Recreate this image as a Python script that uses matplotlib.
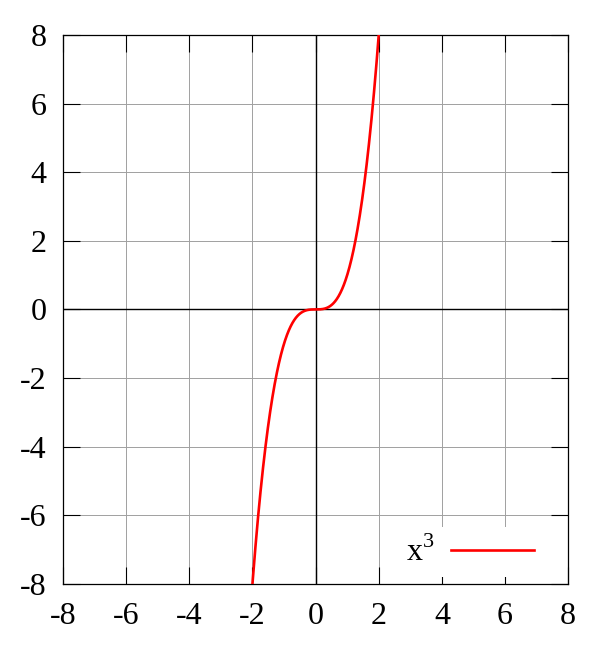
import numpy as np
import matplotlib.pyplot as plt

# curve x^3 over the visible range
x = np.linspace(-8, 8, 2001)
y = x ** 3

ticks = [-8, -6, -4, -2, 0, 2, 4, 6, 8]
label = r"$\mathrm{x}^{3}$"

plt.rcParams['font.family'] = 'serif'
plt.rcParams['font.serif'] = ['Liberation Serif', 'DejaVu Serif']
plt.rcParams['mathtext.fontset'] = 'custom'
plt.rcParams['mathtext.rm'] = 'Liberation Serif'

fig = plt.figure(figsize=(6, 6.58), dpi=100)
ax = fig.add_axes([0.105, 0.1125, 0.842, 0.8345])

ax.plot(x, y, color='#ff0000', lw=1.9, label=label, zorder=4)
ax.axhline(0, color='black', lw=1.0, zorder=3)
ax.axvline(0, color='black', lw=1.0, zorder=3)

ax.set_xlim(-8, 8)
ax.set_ylim(-8, 8)
ax.set_xticks(ticks)
ax.set_yticks(ticks)
ax.set_xticklabels([str(t) for t in ticks])
ax.set_yticklabels([str(t) for t in ticks])
ax.grid(True, color='#a0a0a0', lw=0.7, zorder=1)
ax.set_axisbelow(True)
ax.tick_params(direction='in', length=12, width=0.8, top=True, right=True,
               labelsize=23, color='black')
ax.tick_params(axis='x', pad=13)
ax.tick_params(axis='y', pad=12)
for s in ax.spines.values():
    s.set_linewidth(0.9)

leg = ax.legend(loc='center right', markerfirst=False, fontsize=23,
                handlelength=2.6, handletextpad=0.5, frameon=True,
                fancybox=False, borderpad=0.3,
                bbox_to_anchor=(0.983, 0.058))
leg.get_frame().set_facecolor('white')
leg.get_frame().set_edgecolor('none')
leg.get_frame().set_alpha(1)

fig.savefig('out.png', dpi=100)
